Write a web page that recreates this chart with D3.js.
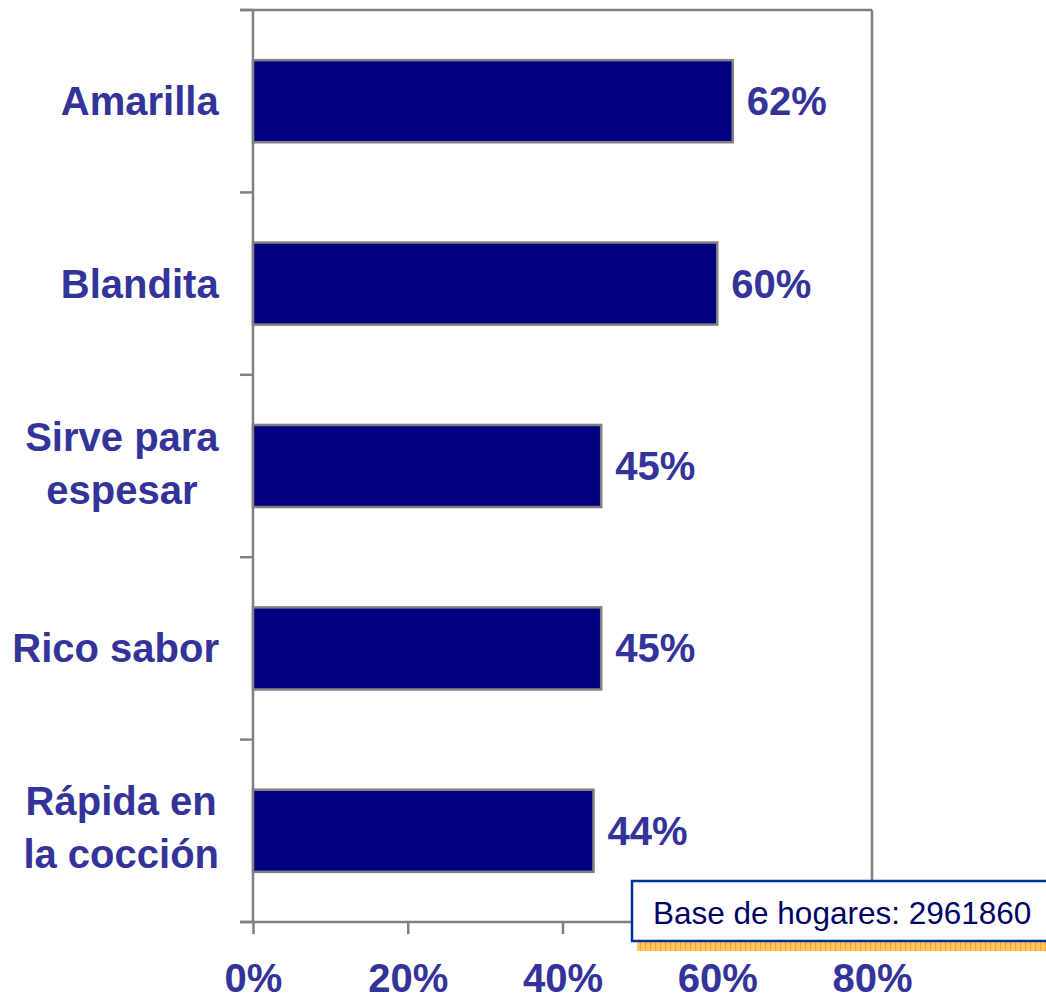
<!DOCTYPE html>
<html>
<head>
<meta charset="utf-8">
<script src="https://cdn.jsdelivr.net/npm/d3@7"></script>
<style>
  html, body { margin: 0; padding: 0; background: #fff; }
  svg { display: block; }
</style>
</head>
<body>
<svg id="chart" width="1046" height="1000"></svg>
<script>
// Attribute categories (each entry = lines of the label) and shares
const categories = [
  ["Amarilla"],
  ["Blandita"],
  ["Sirve para", "espesar"],
  ["Rico sabor"],
  ["Rápida en", "la cocción"]
];
const values = [0.62, 0.60, 0.45, 0.45, 0.44];
const xTicks = [0, 0.2, 0.4, 0.6, 0.8];
const baseNote = "Base de hogares: 2961860";

(function () {
  const svg = d3.select("#chart");
  const font = "'Liberation Sans', Arial, Helvetica, sans-serif";
  const labelColor = "#333399";
  const axisColor = "#808080";

  const plotLeft = 253, plotRight = 872, plotTop = 10, plotBottom = 922;

  const x = d3.scaleLinear().domain([0, 0.8]).range([plotLeft, plotRight]);
  const y = d3.scaleBand()
    .domain(categories.map((d, i) => i))
    .range([plotTop, plotBottom])
    .paddingInner(0.55)
    .paddingOuter(0.275);

  // Plot frame: top and right borders
  svg.append("line")
    .attr("x1", plotLeft - 13).attr("x2", plotRight)
    .attr("y1", plotTop).attr("y2", plotTop)
    .attr("stroke", axisColor).attr("stroke-width", 2.5);
  svg.append("line")
    .attr("x1", plotRight).attr("x2", plotRight)
    .attr("y1", plotTop).attr("y2", plotBottom)
    .attr("stroke", axisColor).attr("stroke-width", 2.5);

  // Category axis: line with ticks between categories
  const step = y.step();
  const boundaries = d3.range(categories.length + 1).map(i => plotTop + i * step);
  svg.append("line")
    .attr("x1", plotLeft).attr("x2", plotLeft)
    .attr("y1", plotTop).attr("y2", plotBottom)
    .attr("stroke", axisColor).attr("stroke-width", 2.5);
  svg.append("g").selectAll("line").data(boundaries).join("line")
    .attr("x1", plotLeft - 13).attr("x2", plotLeft)
    .attr("y1", d => d).attr("y2", d => d)
    .attr("stroke", axisColor).attr("stroke-width", 2.5);

  // Value axis
  const xAxis = d3.axisBottom(x)
    .tickValues(xTicks)
    .tickSize(12)
    .tickPadding(30)
    .tickFormat(d3.format(".0%"));
  const gx = svg.append("g")
    .attr("transform", `translate(0,${plotBottom})`)
    .call(xAxis);
  gx.select(".domain")
    .attr("d", `M${plotLeft - 13},0H${plotRight}`)
    .attr("stroke", axisColor).attr("stroke-width", 2.5);
  gx.selectAll(".tick line").attr("stroke", axisColor).attr("stroke-width", 2.5);
  gx.selectAll(".tick text")
    .attr("fill", labelColor)
    .attr("font-family", font)
    .attr("font-weight", "bold")
    .attr("font-size", 40)
    .attr("dy", "0.71em");

  // Bars
  svg.append("g").selectAll("rect").data(values).join("rect")
    .attr("x", x(0))
    .attr("y", (d, i) => y(i))
    .attr("width", d => x(d) - x(0))
    .attr("height", y.bandwidth())
    .attr("fill", "#000080")
    .attr("stroke", axisColor)
    .attr("stroke-width", 2.5);

  // Value labels
  svg.append("g").selectAll("text").data(values).join("text")
    .attr("x", d => x(d) + 14)
    .attr("y", (d, i) => y(i) + y.bandwidth() / 2 + 14)
    .attr("fill", labelColor)
    .attr("font-family", font)
    .attr("font-weight", "bold")
    .attr("font-size", 40)
    .text(d => d3.format(".0%")(d));

  // Category labels, each line centred within a right-aligned block
  const catG = svg.append("g");
  categories.forEach((lines, i) => {
    const cy = y(i) + y.bandwidth() / 2;
    const lineH = 53;
    const t = catG.append("text")
      .attr("fill", labelColor)
      .attr("font-family", font)
      .attr("font-weight", "bold")
      .attr("font-size", 40)
      .attr("text-anchor", "middle");
    lines.forEach((ln, j) => {
      t.append("tspan")
        .attr("x", 0)
        .attr("y", cy + 14 + (j - (lines.length - 1) / 2) * lineH - (lines.length > 1 ? 3 : 0))
        .text(ln);
    });
    const w = t.node().getBBox().width;
    t.attr("transform", `translate(${219 - w / 2},0)`);
  });

  // Base note box with hatched shadow
  const defs = svg.append("defs");
  const pat = defs.append("pattern")
    .attr("id", "hatch")
    .attr("patternUnits", "userSpaceOnUse")
    .attr("width", 5).attr("height", 10);
  pat.append("rect").attr("width", 5).attr("height", 10).attr("fill", "#FFC766");
  pat.append("rect").attr("x", 0).attr("width", 1.2).attr("height", 10).attr("fill", "#FFA520");

  const boxX = 632, boxY = 881, boxW = 430, boxH = 60;
  svg.append("rect")
    .attr("x", boxX + 5).attr("y", boxY + boxH + 1)
    .attr("width", boxW).attr("height", 9)
    .attr("fill", "url(#hatch)");
  svg.append("rect")
    .attr("x", boxX).attr("y", boxY)
    .attr("width", boxW).attr("height", boxH)
    .attr("fill", "#fff")
    .attr("stroke", "#003399")
    .attr("stroke-width", 2.5);
  svg.append("text")
    .attr("x", 653).attr("y", 924)
    .attr("fill", "#000066")
    .attr("font-family", font)
    .attr("font-size", 31.5)
    .text(baseNote);
})();
</script>
</body>
</html>
